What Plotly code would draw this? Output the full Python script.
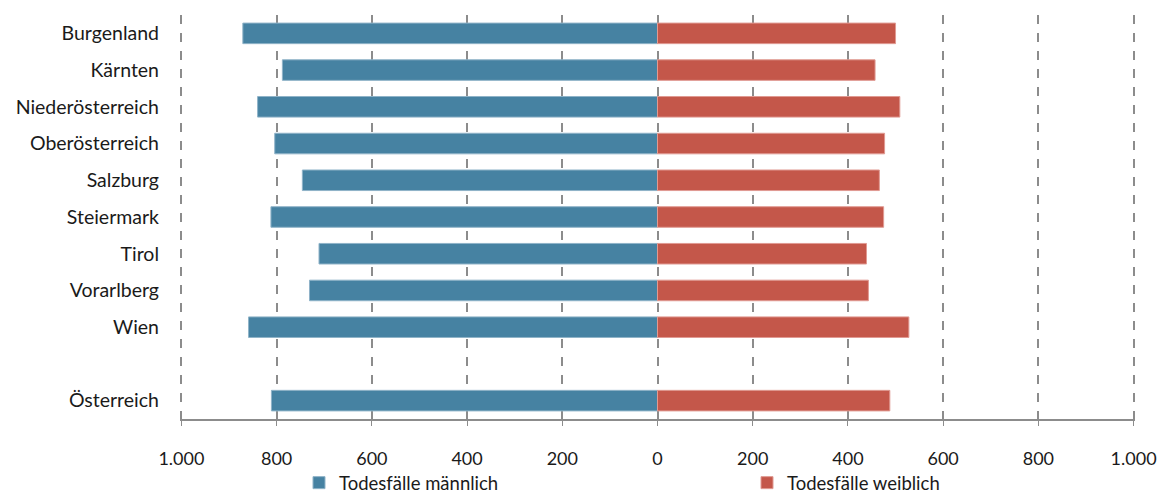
import plotly.graph_objects as go

# Bundesländer (blank row separates the national total)
regions = ["Burgenland", "Kärnten", "Niederösterreich", "Oberösterreich", "Salzburg",
           "Steiermark", "Tirol", "Vorarlberg", "Wien", " ", "Österreich"]
deaths_male = [871, 788, 840, 804, 746, 812, 711, 731, 859, None, 811]
deaths_female = [500, 457, 509, 477, 466, 475, 439, 443, 528, None, 488]

tick_vals = [-1000, -800, -600, -400, -200, 0, 200, 400, 600, 800, 1000]
tick_text = ["1.000", "800", "600", "400", "200", "0", "200", "400", "600", "800", "1.000"]

FONT = "Lato, 'Open Sans', sans-serif"
GRID = "#8c8c8c"

fig = go.Figure()
fig.add_trace(go.Bar(
    y=regions,
    x=[-v if v is not None else None for v in deaths_male],
    orientation="h",
    name="Todesfälle männlich",
    legend="legend",
    marker=dict(color="#4682A2", line=dict(color="#8fb3c8", width=1)),
))
fig.add_trace(go.Bar(
    y=regions,
    x=deaths_female,
    orientation="h",
    name="Todesfälle weiblich",
    legend="legend2",
    marker=dict(color="#C4574A", line=dict(color="#e09a92", width=1)),
))

legend_style = dict(
    orientation="h",
    yref="container", xref="container",
    y=0.024, yanchor="middle",
    font=dict(size=18.5, family=FONT, color="#1a1a1a"),
    bgcolor="rgba(0,0,0,0)",
    itemwidth=30,
)

fig.update_layout(
    width=1163, height=495,
    margin=dict(l=180, r=28, t=15, b=76, autoexpand=False),
    barmode="relative",
    bargap=0.44,
    plot_bgcolor="white",
    paper_bgcolor="white",
    font=dict(family=FONT, size=19, color="#1a1a1a"),
    showlegend=True,
    legend=dict(legend_style, x=299 / 1163, xanchor="left"),
    legend2=dict(legend_style, x=747 / 1163, xanchor="left"),
    xaxis=dict(
        range=[-1003, 1003],
        tickvals=tick_vals,
        ticktext=tick_text,
        showgrid=True,
        gridcolor=GRID,
        griddash="dash",
        gridwidth=1.5,
        zeroline=False,
        showline=True,
        linecolor=GRID,
        linewidth=2,
        ticks="outside",
        ticklen=5,
        tickcolor=GRID,
        tickfont=dict(size=18, family=FONT),
        ticklabelstandoff=17,
    ),
    yaxis=dict(
        categoryorder="array",
        categoryarray=regions,
        autorange="reversed",
        showgrid=False,
        showline=False,
        zeroline=False,
        tickfont=dict(size=19.5, family=FONT),
        ticklabelstandoff=20,
    ),
)

fig.write_html("out.html")
